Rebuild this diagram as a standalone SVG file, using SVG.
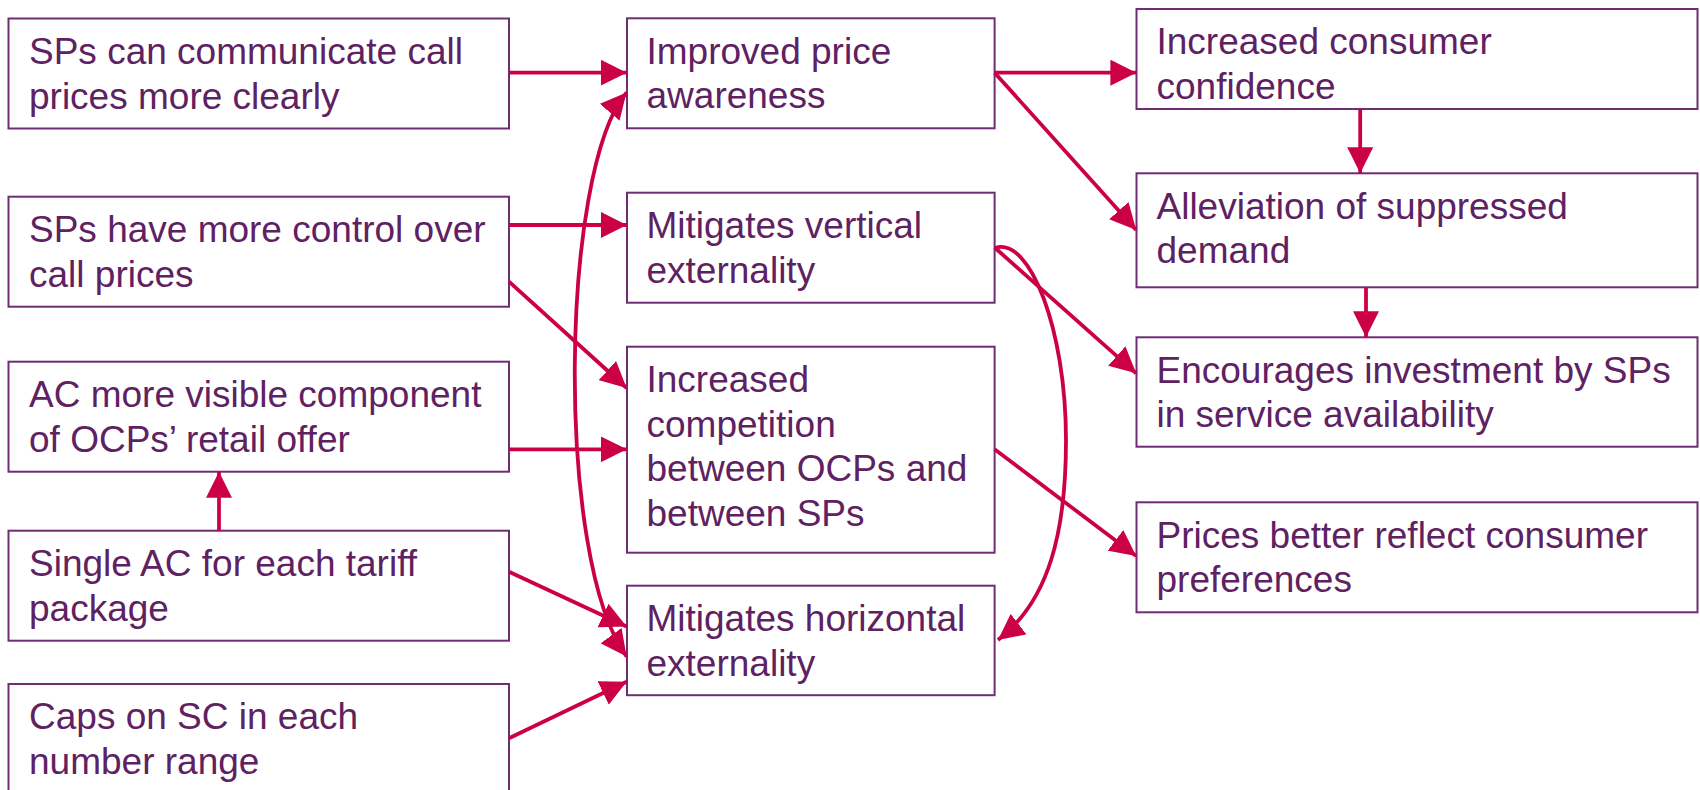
<svg xmlns="http://www.w3.org/2000/svg" width="1700" height="790" viewBox="0 0 1700 790">
  <style>
    .box { fill: #ffffff; stroke: #6e2d74; stroke-width: 2; }
    .lbl { font-family: "Liberation Sans", Arial, sans-serif; font-size: 37px; fill: #5e2162; }
    .edge { fill: none; stroke: #cc0044; stroke-width: 3.8; }
  </style>
  <defs>
    <marker id="head" markerUnits="userSpaceOnUse" markerWidth="27" markerHeight="26" refX="26" refY="13" orient="auto-start-reverse">
      <path d="M0,0 L26,13 L0,26 Z" fill="#cc0044"/>
    </marker>
  </defs>
  <rect width="1700" height="790" fill="#ffffff"/>

  <!-- left column: measures -->
  <g id="n-communicate">
    <rect class="box" x="8.5" y="18.5" width="500.5" height="110"/>
    <text class="lbl" x="29" y="64"><tspan x="29">SPs can communicate call</tspan><tspan x="29" dy="44.7">prices more clearly</tspan></text>
  </g>
  <g id="n-control">
    <rect class="box" x="8.5" y="196.7" width="500.5" height="110"/>
    <text class="lbl" x="29" y="242"><tspan x="29">SPs have more control over</tspan><tspan x="29" dy="44.7">call prices</tspan></text>
  </g>
  <g id="n-visible">
    <rect class="box" x="8.5" y="361.7" width="500.5" height="110"/>
    <text class="lbl" x="29" y="407"><tspan x="29">AC more visible component</tspan><tspan x="29" dy="44.7">of OCPs’ retail offer</tspan></text>
  </g>
  <g id="n-single">
    <rect class="box" x="8.5" y="530.7" width="500.5" height="110"/>
    <text class="lbl" x="29" y="576"><tspan x="29">Single AC for each tariff</tspan><tspan x="29" dy="44.7">package</tspan></text>
  </g>
  <g id="n-caps">
    <rect class="box" x="8.5" y="684" width="500.5" height="110"/>
    <text class="lbl" x="29" y="729.3"><tspan x="29">Caps on SC in each</tspan><tspan x="29" dy="44.7">number range</tspan></text>
  </g>

  <!-- middle column: effects -->
  <g id="n-awareness">
    <rect class="box" x="627" y="18.3" width="367.6" height="110"/>
    <text class="lbl" x="646.5" y="63.5"><tspan x="646.5">Improved price</tspan><tspan x="646.5" dy="44.7">awareness</tspan></text>
  </g>
  <g id="n-vertical">
    <rect class="box" x="627" y="192.7" width="367.6" height="110"/>
    <text class="lbl" x="646.5" y="238"><tspan x="646.5">Mitigates vertical</tspan><tspan x="646.5" dy="44.7">externality</tspan></text>
  </g>
  <g id="n-competition">
    <rect class="box" x="627" y="346.7" width="367.6" height="206"/>
    <text class="lbl" x="646.5" y="392"><tspan x="646.5">Increased</tspan><tspan x="646.5" dy="44.7">competition</tspan><tspan x="646.5" dy="44.7">between OCPs and</tspan><tspan x="646.5" dy="44.7">between SPs</tspan></text>
  </g>
  <g id="n-horizontal">
    <rect class="box" x="627" y="585.7" width="367.6" height="109.5"/>
    <text class="lbl" x="646.5" y="630.8"><tspan x="646.5">Mitigates horizontal</tspan><tspan x="646.5" dy="44.7">externality</tspan></text>
  </g>

  <!-- right column: outcomes -->
  <g id="n-confidence">
    <rect class="box" x="1136.5" y="9" width="561" height="100"/>
    <text class="lbl" x="1156.5" y="54"><tspan x="1156.5">Increased consumer</tspan><tspan x="1156.5" dy="44.7">confidence</tspan></text>
  </g>
  <g id="n-demand">
    <rect class="box" x="1136.5" y="173.3" width="561" height="114"/>
    <text class="lbl" x="1156.5" y="218.5"><tspan x="1156.5">Alleviation of suppressed</tspan><tspan x="1156.5" dy="44.7">demand</tspan></text>
  </g>
  <g id="n-investment">
    <rect class="box" x="1136.5" y="337.3" width="561" height="109.4"/>
    <text class="lbl" x="1156.5" y="382.5"><tspan x="1156.5">Encourages investment by SPs</tspan><tspan x="1156.5" dy="44.7">in service availability</tspan></text>
  </g>
  <g id="n-preferences">
    <rect class="box" x="1136.5" y="502.3" width="561" height="110"/>
    <text class="lbl" x="1156.5" y="547.5"><tspan x="1156.5">Prices better reflect consumer</tspan><tspan x="1156.5" dy="44.7">preferences</tspan></text>
  </g>

  <!-- connectors -->
  <g id="connectors">
    <path class="edge" marker-end="url(#head)" d="M509,72.7 L626.8,72.7"/>
    <path class="edge" marker-end="url(#head)" d="M509,225 L626.8,225"/>
    <path class="edge" marker-end="url(#head)" d="M509,281.7 L626.6,388"/>
    <path class="edge" marker-end="url(#head)" d="M509,449.3 L626.8,449.3"/>
    <path class="edge" marker-end="url(#head)" d="M219,530.7 L219,471.7"/>
    <path class="edge" marker-end="url(#head)" d="M509,571.7 L626.6,626.5"/>
    <path class="edge" marker-end="url(#head)" d="M509,738.3 L626.6,681.7"/>
    <path class="edge" marker-start="url(#head)" marker-end="url(#head)" d="M626.6,92.5 C560,170 555,560 626.6,656.5"/>
    <path class="edge" marker-end="url(#head)" d="M994.6,72.7 L1136.4,72.7"/>
    <path class="edge" marker-end="url(#head)" d="M994.6,72.7 L1136.2,230"/>
    <path class="edge" marker-end="url(#head)" d="M994.6,247.5 L1136.2,373.3"/>
    <path class="edge" marker-end="url(#head)" d="M995,248 C1030,236 1066,330 1066,440 C1066,530 1050,600 998,640"/>
    <path class="edge" marker-end="url(#head)" d="M994.6,449.3 L1136.2,556"/>
    <path class="edge" marker-end="url(#head)" d="M1360.2,109 L1360.2,173.3"/>
    <path class="edge" marker-end="url(#head)" d="M1366,287.3 L1366,337.3"/>
  </g>
</svg>
